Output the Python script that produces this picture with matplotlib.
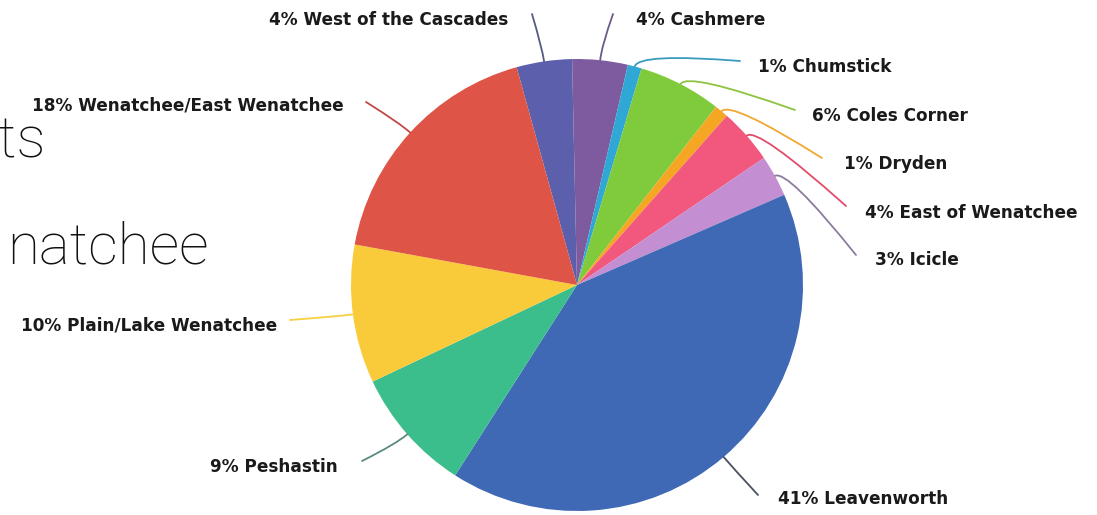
import numpy as np
import matplotlib
matplotlib.use('Agg')
import matplotlib.pyplot as plt
from matplotlib.path import Path
from matplotlib.patches import PathPatch

W, H = 1097, 515

# share of respondents by place of residence
places = ['West of the Cascades', 'Cashmere', 'Chumstick', 'Coles Corner',
          'Dryden', 'East of Wenatchee', 'Icicle', 'Leavenworth',
          'Peshastin', 'Plain/Lake Wenatchee', 'Wenatchee/East Wenatchee']
shares = [4, 4, 1, 6, 1, 4, 3, 41, 9, 10, 18]

colors = ['#5c5fab', '#7e5a9f', '#2fa8d5', '#80cb3b', '#f5a623', '#f2577d',
          '#c48fd2', '#3f69b5', '#3cbd8c', '#f9cb3a', '#de5547']
line_colors = ['#555a86', '#6b5a88', '#3a9cbc', '#8cc43e', '#f0a830',
               '#e04d6a', '#8c7c9c', '#4a5060', '#5a8a80', '#f5d040', '#c04848']

# label placement in pixels from the top-left: text anchor, alignment, leader end
label_xy = [(508, 20), (636, 20), (758, 67), (812, 116), (844, 164),
            (865, 213), (875, 260), (778, 499), (338, 467), (277, 325),
            (344, 106)]
label_ha = ['right', 'left', 'left', 'left', 'left', 'left', 'left',
            'left', 'right', 'right', 'right']
leader_end = [(532, 14), (613, 14), (740, 61), (795, 110), (822, 158),
              (846, 206), (856, 255), (758, 495), (362, 461), (290, 320),
              (366, 102)]

# pie geometry (pixels)
cx, cy, radius = 577, 285, 226


def flip(p):
    return p[0], H - p[1]


fig = plt.figure(figsize=(W / 100, H / 100), dpi=100)
fig.patch.set_facecolor('white')
ax = fig.add_axes([0, 0, 1, 1])

wedges, _ = ax.pie(shares, colors=colors, startangle=105.5,
                   counterclock=False, center=flip((cx, cy)), radius=radius,
                   wedgeprops=dict(linewidth=0))
ax.set_aspect('auto')
ax.set_xlim(0, W)
ax.set_ylim(0, H)
ax.axis('off')

for w, pct, name, pos, ha, end, lc in zip(wedges, shares, places, label_xy,
                                          label_ha, leader_end, line_colors):
    mid = np.deg2rad((w.theta1 + w.theta2) / 2)
    ux, uy = np.cos(mid), np.sin(mid)
    x0, y0 = w.center
    start = (x0 + w.r * ux, y0 + w.r * uy)
    ctrl = (start[0] + 14 * ux, start[1] + 14 * uy)
    path = Path([start, ctrl, flip(end)], [Path.MOVETO, Path.CURVE3, Path.CURVE3])
    ax.add_patch(PathPatch(path, fill=False, edgecolor=lc, lw=1.3,
                           capstyle='round'))
    tx, ty = flip(pos)
    ax.text(tx, ty, f'{pct}% {name}', ha=ha, va='center',
            fontsize=12.2, fontweight='bold', family='DejaVu Sans',
            color='#1a1a1a')

# slide text behind the chart, cut at the left edge
for s, x, y in [('nts', 46, 157), ('natchee', 209, 263)]:
    ax.text(x, H - y, s, ha='right', va='baseline', fontsize=42,
            fontweight='light', family=['Roboto', 'Lato', 'DejaVu Sans'],
            color='#111111')

fig.savefig('out.png', dpi=100, facecolor='white')
